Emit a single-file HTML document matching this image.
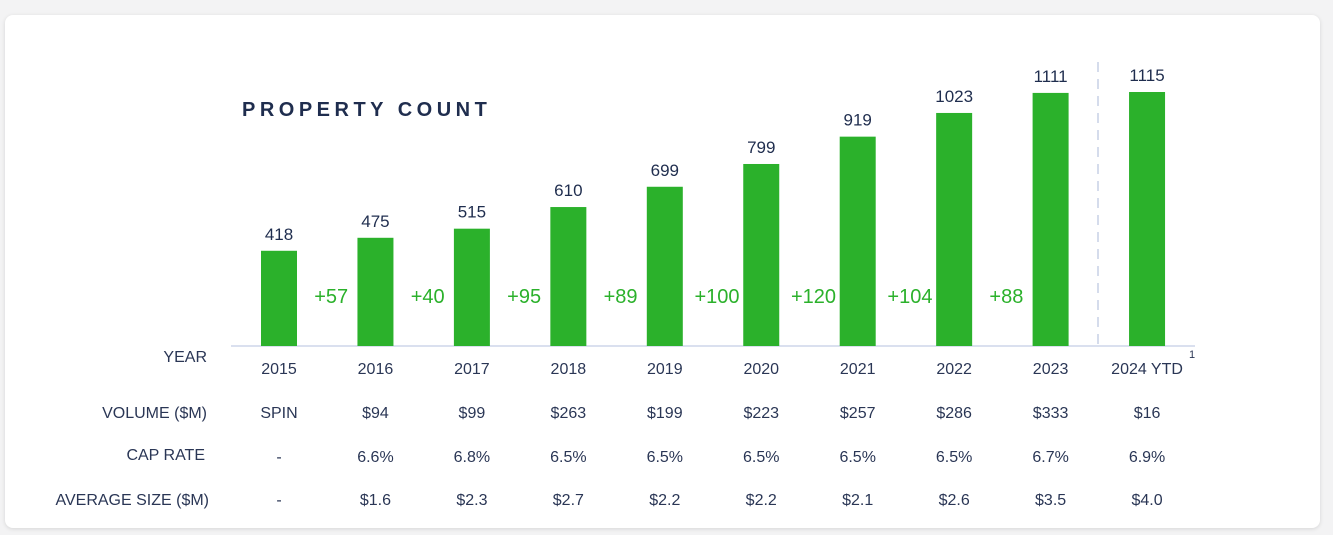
<!DOCTYPE html>
<html><head><meta charset="utf-8"><style>
body{margin:0;width:1333px;height:535px;background:#f3f3f4;font-family:"Liberation Sans",sans-serif;overflow:hidden}
#card{position:absolute;left:5px;top:15px;width:1315px;height:513px;background:#fff;border-radius:8px;box-shadow:0 1px 4px rgba(0,0,0,.12)}
svg{position:absolute;left:0;top:0}
</style></head><body>
<div id="card"></div>
<svg id="chart" width="1333" height="535">
<text x="242" y="116" font-size="20" font-weight="bold" fill="#1f2d4e" letter-spacing="4.5">PROPERTY COUNT</text>
<line x1="231" y1="346" x2="1195" y2="346" stroke="#cdd6ea" stroke-width="1.5"/>
<line x1="1098" y1="62" x2="1098" y2="346" stroke="#d5dcec" stroke-width="2" stroke-dasharray="10,7"/>
<text x="207" y="362" font-size="16" fill="#2a3655" text-anchor="end">YEAR</text>
<text x="207" y="418" font-size="16" fill="#2a3655" text-anchor="end">VOLUME ($M)</text>
<text x="205" y="460" font-size="16" fill="#2a3655" text-anchor="end">CAP RATE</text>
<text x="209" y="505" font-size="16" fill="#2a3655" text-anchor="end">AVERAGE SIZE ($M)</text>
<text x="1189" y="358" font-size="11" fill="#2a3655">1</text>
</svg>
<script>
const years=["2015","2016","2017","2018","2019","2020","2021","2022","2023","2024 YTD"];
const counts=[418,475,515,610,699,799,919,1023,1111,1115];
const volumes=["SPIN","$94","$99","$263","$199","$223","$257","$286","$333","$16"];
const capRates=["-","6.6%","6.8%","6.5%","6.5%","6.5%","6.5%","6.5%","6.7%","6.9%"];
const avgSizes=["-","$1.6","$2.3","$2.7","$2.2","$2.2","$2.1","$2.6","$3.5","$4.0"];
const NS="http://www.w3.org/2000/svg";
const svg=document.getElementById('chart');
const x=i=>279+i*96.45;
const base=346,k=(346-92)/1115;
const y=v=>base-v*k;
function t(px,py,s,size,fill,name){const e=document.createElementNS(NS,'text');e.setAttribute('x',px);e.setAttribute('y',py);e.setAttribute('font-size',size);e.setAttribute('fill',fill);e.setAttribute('text-anchor','middle');e.textContent=s;


svg.appendChild(e);return e;}
counts.forEach((v,i)=>{
const r=document.createElementNS(NS,'rect');
r.setAttribute('x',x(i)-18);r.setAttribute('y',y(v));r.setAttribute('width',36);r.setAttribute('height',base-y(v));r.setAttribute('fill','#2bb12b');


svg.appendChild(r);
t(x(i),y(v)-11,String(v),17,'#1f2d4e','bar-value-label');
t(x(i),374,years[i],16,'#2a3655','year-label');
t(x(i),418,volumes[i],16,'#2a3655','volume-value');
t(x(i),462,capRates[i],16,'#2a3655','cap-rate-value');
t(x(i),505,avgSizes[i],16,'#2a3655','average-size-value');
if(i>0&&i<counts.length-1){
t((x(i-1)+x(i))/2+4,303,'+'+(counts[i]-counts[i-1]),20,'#2bb12b','growth-label');
}
});
</script>
</body></html>
